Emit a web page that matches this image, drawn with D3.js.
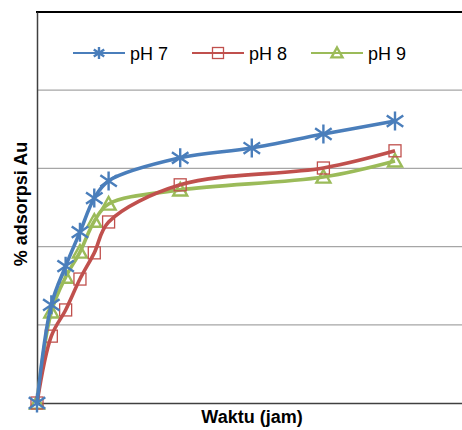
<!DOCTYPE html>
<html lang="id">
<head>
<meta charset="UTF-8">
<title>% adsorpsi Au vs Waktu</title>
<script src="https://d3js.org/d3.v7.min.js"></script>
<style>
  body { margin: 0; background: #fff; }
  svg text { font-family: "Liberation Sans", Arial, sans-serif; fill: #000; }
  .axis-title { font-weight: bold; font-size: 18px; }
  .legend text { font-size: 18px; }
</style>
</head>
<body>
<div id="chart"></div>
<script>
// data (x = waktu, y = % adsorpsi)
const waktu = [0, 1, 2, 3, 4, 5, 10, 15, 20, 25];
const ph7 = [0, 25.1, 35.0, 43.7, 52.4, 56.8, 62.7, 65.2, 68.8, 72.1];
const ph8 = [0, 17.1, 23.8, 31.7, 38.4, 46.3, 55.8, null, 60.1, 64.5];
const ph9 = [0, 23.3, 32.2, 38.6, 46.5, 50.9, 54.5, null, 57.8, 61.9];
const seriesNames = ["pH 7", "pH 8", "pH 9"];
const yTicks = [0, 20, 40, 60, 80, 100];

const width = 462, height = 430;
const plotLeft = 37, plotTop = 12, plotBottom = 403;

const svg = d3.select("#chart").append("svg")
    .attr("width", width)
    .attr("height", height);

const x = d3.scaleLinear().domain([0, 30]).range([plotLeft, plotLeft + 30 * 14.32]);
const y = d3.scaleLinear().domain([0, 100]).range([plotBottom, plotTop]);

// gridlines
svg.append("g")
    .selectAll("line")
    .data(yTicks.slice(1, -1))
    .join("line")
    .attr("x1", plotLeft).attr("x2", width)
    .attr("y1", d => y(d)).attr("y2", d => y(d))
    .attr("stroke", "#a6a6a6")
    .attr("stroke-width", 1.3);

// top border
svg.append("line")
    .attr("x1", plotLeft - 1).attr("x2", width)
    .attr("y1", y(100)).attr("y2", y(100))
    .attr("stroke", "#000").attr("stroke-width", 2);

// axes (no tick labels)
svg.append("g")
    .attr("transform", `translate(0,${plotBottom})`)
    .call(d3.axisBottom(x).tickValues([]).tickSizeOuter(0))
    .call(g => g.select(".domain").attr("stroke", "#404040").attr("stroke-width", 1.5));

svg.append("g")
    .attr("transform", `translate(${plotLeft},0)`)
    .call(d3.axisLeft(y).tickValues([]).tickSizeOuter(0))
    .call(g => g.select(".domain").attr("stroke", "#404040").attr("stroke-width", 1.5));

const colors = ["#4a7ebb", "#c0504d", "#9bbb59"];
const allSeries = [ph7, ph8, ph9];

const line = d3.line()
    .x(d => x(d.x))
    .y(d => y(d.y))
    .curve(d3.curveCatmullRom.alpha(0.5));

function star(g, s) {
    const r = s / 2;
    g.append("path")
        .attr("d", `M0,${-r}L0,${r}M${-r * 0.87},${-r * 0.6}L${r * 0.87},${r * 0.6}M${-r * 0.87},${r * 0.6}L${r * 0.87},${-r * 0.6}`)
        .attr("stroke", colors[0]).attr("stroke-width", 2.4).attr("fill", "none");
}
function square(g, s) {
    g.append("rect")
        .attr("x", -s / 2).attr("y", -s / 2).attr("width", s).attr("height", s)
        .attr("stroke", colors[1]).attr("stroke-width", 1.3).attr("fill", "none");
}
function triangle(g, s) {
    const r = s / 2;
    g.append("path")
        .attr("d", `M0,${-r}L${r},${r * 0.8}L${-r},${r * 0.8}Z`)
        .attr("stroke", colors[2]).attr("stroke-width", 2.4).attr("fill", "none");
}
const markers = [star, square, triangle];
const markerSize = [19, 12, 14];

// draw series in reverse order so blue ends on top
[2, 1, 0].forEach(i => {
    const pts = waktu.map((w, j) => ({ x: w, y: allSeries[i][j] })).filter(d => d.y != null);
    svg.append("path")
        .datum(pts)
        .attr("d", line)
        .attr("fill", "none")
        .attr("stroke", colors[i])
        .attr("stroke-width", 3.6)
        .attr("stroke-linejoin", "round");
    svg.append("g")
        .selectAll("g")
        .data(pts)
        .join("g")
        .attr("transform", d => `translate(${x(d.x)},${y(d.y)})`)
        .each(function () { markers[i](d3.select(this), markerSize[i]); });
});

// legend
const legendX = [73, 192, 311];
const legend = svg.append("g").attr("class", "legend");
seriesNames.forEach((name, i) => {
    const g = legend.append("g").attr("transform", `translate(${legendX[i]},53)`);
    g.append("line").attr("x1", 0).attr("x2", 52)
        .attr("stroke", colors[i]).attr("stroke-width", 2.2);
    const m = g.append("g").attr("transform", "translate(26,0)");
    markers[i](m, i === 0 ? 12 : 11);
    g.append("text").attr("x", 57).attr("y", 6.5).text(name);
});

// axis titles
svg.append("text")
    .attr("class", "axis-title")
    .attr("x", 252).attr("y", 423)
    .attr("text-anchor", "middle")
    .text("Waktu (jam)");

svg.append("text")
    .attr("class", "axis-title")
    .attr("transform", "translate(27,204) rotate(-90)")
    .attr("text-anchor", "middle")
    .text("% adsorpsi Au");
</script>
</body>
</html>
